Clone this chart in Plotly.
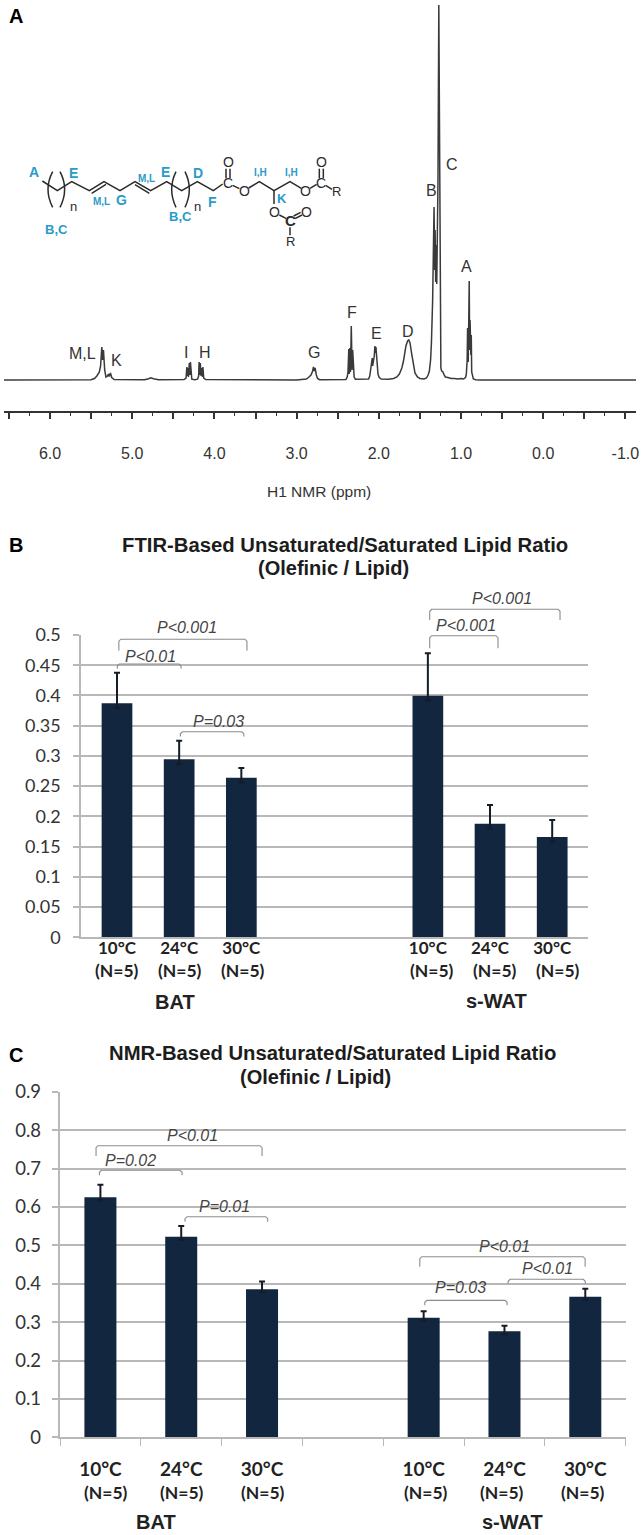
import plotly.graph_objects as go

# ---------- Panel A: 1H NMR spectrum ----------
ppm_values = [
    6.56, 5.50, 5.46, 5.43, 5.40, 5.385, 5.37, 5.36, 5.35, 5.335, 5.32, 5.30, 5.29, 5.28, 5.265, 5.25, 5.22,
    4.85, 4.80, 4.775, 4.74, 4.68,
    4.37, 4.345, 4.335, 4.328, 4.322, 4.316, 4.305, 4.298, 4.292, 4.285, 4.275, 4.24,
    4.205, 4.192, 4.186, 4.178, 4.172, 4.162, 4.152, 4.146, 4.14, 4.13, 4.105,
    3.0, 2.92, 2.88, 2.85, 2.825, 2.805, 2.795, 2.785, 2.775, 2.76, 2.745, 2.72,
    2.40, 2.385, 2.375, 2.365, 2.36, 2.352, 2.345, 2.335, 2.325, 2.318, 2.31, 2.30, 2.285,
    2.125, 2.11, 2.10, 2.09, 2.08, 2.075, 2.065, 2.055, 2.048, 2.04, 2.035, 2.025, 2.01, 1.995, 1.97,
    1.88, 1.82, 1.78, 1.75, 1.72, 1.70, 1.67, 1.65, 1.635, 1.62, 1.60, 1.58, 1.56, 1.53, 1.50,
    1.45, 1.42, 1.40, 1.385, 1.37, 1.36, 1.345, 1.335, 1.328, 1.32, 1.315, 1.308, 1.30, 1.295, 1.288,
    1.28, 1.27, 1.262, 1.257, 1.252, 1.245, 1.235, 1.22, 1.205, 1.19, 1.16, 1.12, 1.08, 1.04, 1.0, 0.97, 0.945,
    0.935, 0.925, 0.92, 0.912, 0.905, 0.90, 0.895, 0.89, 0.885, 0.88, 0.875, 0.87, 0.86, 0.85, 0.82, 0.78, -1.13,
]
intensity_values = [
    0, 0.3, 1.5, 4, 8, 14, 33, 20, 30, 10, 3, 4, 6, 3.5, 7, 2.5, 0.5,
    0.3, 1.3, 2.2, 1.2, 0.3,
    0.5, 2, 13, 4, 12, 3, 17, 5, 18, 4, 0.8, 0.2,
    0.8, 4, 18, 5, 17, 4, 12, 3, 13, 2, 0.4,
    0, 0.2, 1, 3, 5, 9, 13, 9, 12, 5, 1.5, 0.3,
    0.5, 3, 8, 31, 6, 32, 8, 54, 10, 30, 6, 3, 0.8,
    1, 4, 10, 16, 22, 14, 20, 24, 34, 27, 33, 16, 6, 2.5, 1,
    0.8, 1.5, 3, 6, 12, 19, 34, 39, 40, 37, 26, 14, 7, 3, 1.5,
    1, 2, 5, 9, 20, 37, 80, 120, 173, 110, 150, 98, 135, 96, 130,
    200, 375, 250, 120, 40, 12, 9, 8, 5, 3, 2.5, 1.5, 1.5, 1, 1.5, 1, 2.5,
    6, 20, 52, 18, 50, 99, 30, 60, 43, 25, 45, 8, 3, 1, 0.3, 0, 0,
]
nmr_major_ticks = [6.5, 6.0, 5.5, 5.0, 4.5, 4.0, 3.5, 3.0, 2.5, 2.0, 1.5, 1.0, 0.5, 0.0, -0.5, -1.0]
nmr_tick_text = ["", "6.0", "", "5.0", "", "4.0", "", "3.0", "", "2.0", "", "1.0", "", "0.0", "", "-1.0"]
nmr_minor_ticks = [6.25, 5.75, 5.25, 4.75, 4.25, 3.75, 3.25, 2.75, 2.25, 1.75, 1.25, 0.75, 0.25, -0.25, -0.75]
peak_labels = ["M,L", "K", "I", "H", "G", "F", "E", "D", "B", "C", "A"]
peak_label_x = [82.7, 116.3, 186, 204.7, 313.7, 351.7, 376.7, 408.3, 431.3, 452.3, 466.7]
peak_label_y = [353.3, 360.7, 352, 352.7, 352.3, 312, 333.3, 331.7, 190, 164.7, 266.7]

# ---------- Panel B: FTIR ratio ----------
b_positions = [0, 1, 2, 5, 6, 7]
b_values = [0.387, 0.2944, 0.264, 0.3997, 0.188, 0.166]
b_errors = [0.0507, 0.0306, 0.016, 0.07, 0.031, 0.028]
b_ticks = [0, 0.05, 0.1, 0.15, 0.2, 0.25, 0.3, 0.35, 0.4, 0.45, 0.5]
b_tick_text = ["0", "0.05", "0.1", "0.15", "0.2", "0.25", "0.3", "0.35", "0.4", "0.45", "0.5"]
b_brackets_x0 = [0.03, 0.005, 1.02, 5.03, 5.03]
b_brackets_x1 = [2.09, 1.03, 2.04, 7.126, 6.128]
b_brackets_top = [0.493, 0.452, 0.340, 0.5425, 0.4988]
b_brackets_foot = [0.474, 0.444, 0.332, 0.525, 0.478]
b_p_text = ["P<0.001", "P<0.01", "P=0.03", "P<0.001", "P<0.001"]
b_p_x = [1.126, 0.542, 1.625, 6.19, 5.614]
b_p_y = [0.5116, 0.465, 0.3566, 0.5607, 0.5165]

# ---------- Panel C: NMR ratio ----------
c_positions = [0, 1, 2, 4, 5, 6]
c_values = [0.625, 0.5225, 0.3854, 0.3115, 0.276, 0.366]
c_errors = [0.033, 0.0275, 0.0206, 0.0165, 0.0146, 0.021]
c_ticks = [0, 0.1, 0.2, 0.3, 0.4, 0.5, 0.6, 0.7, 0.8, 0.9]
c_tick_text = ["0", "0.1", "0.2", "0.3", "0.4", "0.5", "0.6", "0.7", "0.8", "0.9"]
c_boundaries = [-0.5, 0.5, 1.5, 2.5, 3.5, 4.5, 5.5, 6.5]
c_brackets_x0 = [-0.054, -0.012, 1.047, 3.952, 5.045, 4.014]
c_brackets_x1 = [2.0, 1.01, 2.07, 5.998, 6.0, 5.032]
c_brackets_top = [0.7594, 0.6953, 0.5745, 0.4703, 0.4115, 0.3567]
c_brackets_foot = [0.7326, 0.6823, 0.5615, 0.4443, 0.399, 0.3437]
c_p_text = ["P<0.01", "P=0.02", "P=0.01", "P<0.01", "P<0.01", "P=0.03"]
c_p_x = [1.139, 0.371, 1.53, 5.004, 5.536, 4.451]
c_p_y = [0.787, 0.7203, 0.602, 0.4964, 0.4383, 0.3906]

temperatures = ["10°C", "24°C", "30°C", "10°C", "24°C", "30°C"]
n_label = "(N=5)"

# ---------- Lipid structure sketch (page pixels x3, as zoomed) ----------
bond_segments = [
    [(127, 543), (172, 572), (215, 545), (268, 572), (312, 545), (360, 572), (405, 545), (452, 572),
     (500, 545), (545, 572), (592, 545), (640, 572), (668, 552)],
    [(275, 580), (318, 553)],
    [(405, 554), (448, 580)],
    [(678, 506), (678, 535)], [(690, 506), (690, 535)],
    [(698, 556), (718, 566)],
    [(746, 564), (778, 545), (822, 572), (870, 545), (904, 565)],
    [(930, 565), (950, 553)],
    [(958, 506), (958, 535)], [(970, 506), (970, 535)],
    [(977, 556), (996, 568)],
    [(822, 572), (822, 612)],
    [(838, 645), (858, 655)],
    [(885, 656), (906, 645)], [(881, 648), (902, 637)],
    [(870, 682), (870, 706)],
]
paren_paths = [
    "M158,515 Q130,568 158,622", "M180,515 Q208,568 180,622",
    "M528,515 Q502,568 528,622", "M555,515 Q581,568 555,622",
]
blue_labels = [
    ("A", 102, 517, 14), ("E", 220, 520, 14), ("M,L", 305, 603, 10), ("G", 365, 600, 14),
    ("M,L", 440, 535, 10), ("E", 497, 515, 14), ("D", 595, 519, 14), ("F", 638, 605, 14),
    ("B,C", 168, 688, 13), ("B,C", 541, 648, 13), ("I,H", 780, 517, 10), ("I,H", 875, 517, 10),
    ("K", 846, 594, 13),
]
dark_labels = [
    ("n", 220, 620, 13), ("n", 592, 618, 13), ("O", 685, 487, 14), ("C", 683, 549, 14),
    ("O", 732, 574, 14), ("O", 917, 574, 14), ("C", 962, 549, 14), ("O", 963, 487, 14),
    ("R", 1010, 575, 13), ("O", 822, 636, 14), ("O", 918, 636, 14), ("R", 870, 725, 13),
]

WIDTH, HEIGHT = 641, 1535
NAVY = "#12263f"
GRID = "#b8b8b8"
SANS = "Liberation Sans"
CAL = "Lato"

B_X0, B_X1, B_Y0, B_Y1 = 81.0, 587.7, 937.3, 635.0
B_XR = (-0.579, 7.571)
B_YR = (0.0, 0.5)
C_X0, C_X1, C_Y0, C_Y1 = 60.0, 625.7, 1437.3, 1091.7
C_XR = (-0.5, 6.5)
C_YR = (0.0, 0.9)


def xdom(a, b):
    return [a / WIDTH, b / WIDTH]


def ydom(bottom, top):
    return [1 - bottom / HEIGHT, 1 - top / HEIGHT]


def to_page(x, y, px0, px1, py0, py1, xr, yr):
    return (px0 + (x - xr[0]) / (xr[1] - xr[0]) * (px1 - px0),
            py0 + (y - yr[0]) / (yr[1] - yr[0]) * (py1 - py0))


def b_page(x, y):
    return to_page(x, y, B_X0, B_X1, B_Y0, B_Y1, B_XR, B_YR)


def c_page(x, y):
    return to_page(x, y, C_X0, C_X1, C_Y0, C_Y1, C_XR, C_YR)


def bracket(x0, x1, top, foot, conv):
    xa, yf = conv(x0, foot)
    xb, yt = conv(x1, top)
    r = 2.0
    return go.Scatter(
        x=[xa, xa, xa + r, xb - r, xb, xb], y=[yf, yt + r, yt, yt, yt + r, yf],
        xaxis="x4", yaxis="y4", mode="lines", line=dict(color="#8c8c8c", width=1.1),
        cliponaxis=False, hoverinfo="skip", showlegend=False,
    )


fig = go.Figure()

# spectrum
fig.add_trace(go.Scatter(x=ppm_values, y=intensity_values, mode="lines", xaxis="x", yaxis="y",
                         line=dict(color="#3a3a3a", width=1.5), cliponaxis=False, showlegend=False))

# bars
for xs, ys, es, ax, ay, w in [
    (b_positions, b_values, b_errors, "x2", "y2", 0.494),
    (c_positions, c_values, c_errors, "x3", "y3", 0.396),
]:
    fig.add_trace(go.Bar(
        x=xs, y=ys, width=w, xaxis=ax, yaxis=ay, showlegend=False,
        marker=dict(color=NAVY, line=dict(width=0)),
        error_y=dict(type="data", symmetric=False, array=es, arrayminus=[0.008] * len(es),
                     color="#141c28", thickness=2, width=3),
    ))

# significance brackets
for i in range(len(b_p_text)):
    fig.add_trace(bracket(b_brackets_x0[i], b_brackets_x1[i], b_brackets_top[i], b_brackets_foot[i], b_page))
for i in range(len(c_p_text)):
    fig.add_trace(bracket(c_brackets_x0[i], c_brackets_x1[i], c_brackets_top[i], c_brackets_foot[i], c_page))

# structure
sx, sy = [], []
for seg in bond_segments:
    sx += [p[0] / 3 for p in seg] + [None]
    sy += [p[1] / 3 for p in seg] + [None]
fig.add_trace(go.Scatter(x=sx, y=sy, mode="lines", xaxis="x4", yaxis="y4", showlegend=False,
                         line=dict(color="#2b2b2b", width=1.5), hoverinfo="skip"))

ann = []


def page_text(text, x, y, size, color="#222222", bold=False, italic=False, family=SANS):
    if bold:
        text = "<b>%s</b>" % text
    if italic:
        text = "<i>%s</i>" % text
    ann.append(dict(text=text, x=x, y=y, xref="x4", yref="y4", showarrow=False, xanchor="center", yanchor="middle",
                    font=dict(family=family, size=size, color=color)))


page_text("A", 15.5, 16, 20, "#000000", bold=True)
page_text("B", 15.5, 545, 20, "#000000", bold=True)
page_text("C", 15.5, 1055, 20, "#000000", bold=True)

for t, x, y in zip(peak_labels, peak_label_x, peak_label_y):
    page_text(t, x, y, 16, "#333333")
page_text("H1 NMR (ppm)", 319, 491, 15.5, "#333333")

for t, x, y, s in blue_labels:
    page_text(t, x / 3, y / 3, s, "#2a9bc9", bold=True)
for t, x, y, s in dark_labels:
    page_text(t, x / 3, y / 3, s, "#2b2b2b")
page_text("C", 870 / 3, 662 / 3, 15, "#2b2b2b", bold=True)

page_text("FTIR-Based Unsaturated/Saturated Lipid Ratio", 345, 545, 20.3, "#1c1c1c", bold=True)
page_text("(Olefinic / Lipid)", 333.7, 567.7, 20, "#1c1c1c", bold=True)
page_text("NMR-Based Unsaturated/Saturated Lipid Ratio", 332.5, 1053, 20.3, "#1c1c1c", bold=True)
page_text("(Olefinic / Lipid)", 315, 1077, 20, "#1c1c1c", bold=True)
page_text("BAT", 175, 1002, 20, "#222222", bold=True)
page_text("s-WAT", 496.7, 1000.7, 20, "#222222", bold=True)
page_text("BAT", 156, 1521.7, 20, "#222222", bold=True)
page_text("s-WAT", 512.7, 1521.7, 20, "#222222", bold=True)

for x in [117, 180, 243, 432, 495.3, 558]:
    page_text(n_label, x, 970, 17.5, "#222222", bold=True, family=CAL)
for x in [105.7, 181.7, 263, 425.7, 501.7, 583]:
    page_text(n_label, x, 1492, 17.5, "#222222", bold=True, family=CAL)

for t, x, y in zip(b_p_text, b_p_x, b_p_y):
    px, py = b_page(x, y)
    page_text(t, px, py, 16, "#444444", italic=True)
for t, x, y in zip(c_p_text, c_p_x, c_p_y):
    px, py = c_page(x, y)
    page_text(t, px, py, 16, "#444444", italic=True)

shapes = [dict(type="path", path="M%g,%g Q%g,%g %g,%g" % tuple(
    float(v) / 3 for pair in p.replace("M", "").replace("Q", "").split() for v in pair.split(",")),
    xref="x4", yref="y4", line=dict(color="#2b2b2b", width=1.5)) for p in paren_paths]

fig.update_layout(
    width=WIDTH, height=HEIGHT, autosize=False, margin=dict(l=0, r=0, t=0, b=0, pad=0),
    paper_bgcolor="white", plot_bgcolor="rgba(0,0,0,0)", showlegend=False,
    annotations=ann, shapes=shapes, barmode="overlay",
    xaxis=dict(domain=xdom(4, 636), range=[6.56, -1.129], anchor="y", showgrid=False, zeroline=False, automargin=False,
               showline=True, linecolor="#333333", linewidth=2,
               ticks="outside", ticklen=6, tickwidth=1.5, tickcolor="#333333",
               tickmode="array", tickvals=nmr_major_ticks, ticktext=nmr_tick_text, ticklabelstandoff=21,
               tickfont=dict(family=SANS, size=16, color="#333333"),
               minor=dict(tickmode="array", tickvals=nmr_minor_ticks, ticks="outside", ticklen=3,
                          tickwidth=1.2, tickcolor="#333333", showgrid=False)),
    yaxis=dict(domain=ydom(411, 0), range=[-31, 380], anchor="x", visible=False, automargin=False),
    xaxis2=dict(domain=xdom(B_X0, B_X1), range=list(B_XR), anchor="y2", showgrid=False, zeroline=False, automargin=False,
                showline=True, linecolor=GRID, linewidth=1.5, ticks="",
                tickmode="array", tickvals=b_positions, ticktext=["<b>%s</b>" % t for t in temperatures],
                ticklabelstandoff=-5, tickfont=dict(family=CAL, size=17, color="#222222")),
    yaxis2=dict(domain=ydom(B_Y0, B_Y1), range=list(B_YR), anchor="x2", showgrid=True, gridcolor=GRID, gridwidth=1.5,
                zeroline=False, automargin=False, showline=True, linecolor=GRID, linewidth=1.5, ticks="outside", ticklen=6,
                tickwidth=1.5, tickcolor=GRID, tickmode="array", tickvals=b_ticks, ticktext=b_tick_text,
                ticklabelstandoff=9, tickfont=dict(family=CAL, size=18, color="#333333")),
    xaxis3=dict(domain=xdom(C_X0, C_X1), range=list(C_XR), anchor="y3", showgrid=False, zeroline=False, automargin=False,
                showline=True, linecolor=GRID, linewidth=1.5, ticks="",
                tickmode="array", tickvals=c_positions, ticktext=["<b>%s</b>" % t for t in temperatures],
                ticklabelstandoff=14, tickfont=dict(family=CAL, size=19, color="#222222"),
                minor=dict(tickmode="array", tickvals=c_boundaries, ticks="outside", ticklen=7,
                           tickwidth=1.2, tickcolor=GRID, showgrid=False)),
    yaxis3=dict(domain=ydom(C_Y0, C_Y1), range=list(C_YR), anchor="x3", showgrid=True, gridcolor=GRID, gridwidth=1.5,
                zeroline=False, automargin=False, showline=True, linecolor=GRID, linewidth=1.5, ticks="outside", ticklen=6.5,
                tickwidth=1.5, tickcolor=GRID, tickmode="array", tickvals=c_ticks, ticktext=c_tick_text,
                ticklabelstandoff=7, tickfont=dict(family=CAL, size=18.5, color="#333333")),
    xaxis4=dict(domain=[0, 1], range=[0, WIDTH], anchor="y4", visible=False, automargin=False),
    yaxis4=dict(domain=[0, 1], range=[HEIGHT, 0], anchor="x4", visible=False, automargin=False),
)

fig.write_html("out.html", config={"displayModeBar": False},
               post_script="document.body.style.margin='0';document.documentElement.style.overflow='hidden';")
